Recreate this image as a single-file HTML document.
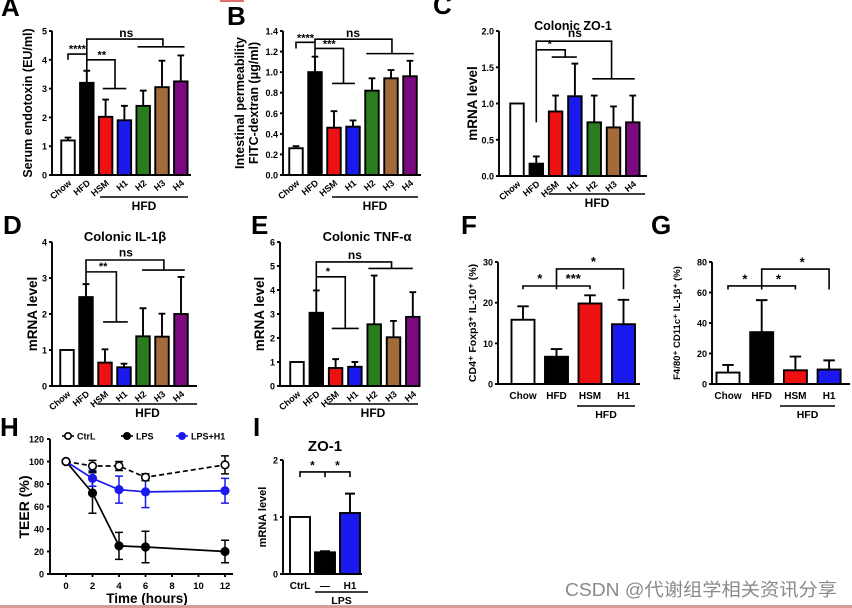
<!DOCTYPE html>
<html><head><meta charset="utf-8"><style>
html,body{margin:0;padding:0;background:#fff;}
svg{display:block;font-family:"Liberation Sans","Noto Sans CJK SC",sans-serif;}
text{font-weight:bold;fill:#000;}
</style></head><body>
<svg id="fig" width="852" height="608" viewBox="0 0 852 608" xmlns="http://www.w3.org/2000/svg"></svg>
<script>
// ---- data ----
const cats7 = ["Chow","HFD","HSM","H1","H2","H3","H4"];
const cols7 = ["#ffffff","#000000","#ee1111","#1a1aee","#2a7d1e","#a36a3a","#7a0a7e"];
const aMeans = [1.2,3.2,2.02,1.9,2.4,3.05,3.25];
const aErrs  = [0.1,0.42,0.6,0.5,0.53,0.92,0.9];
const bMeans = [0.26,1.0,0.46,0.47,0.82,0.94,0.96];
const bErrs  = [0.02,0.15,0.16,0.06,0.12,0.08,0.15];
const cMeans = [1.0,0.17,0.89,1.1,0.74,0.67,0.74];
const cErrs  = [0,0.1,0.22,0.45,0.37,0.29,0.37];
const dMeans = [1.0,2.47,0.65,0.52,1.38,1.37,2.0];
const dErrs  = [0,0.36,0.37,0.1,0.78,0.64,1.03];
const eMeans = [1.0,3.05,0.75,0.8,2.57,2.03,2.88];
const eErrs  = [0,0.93,0.37,0.2,2.03,0.68,1.03];
const cats4 = ["Chow","HFD","HSM","H1"];
const cols4 = ["#ffffff","#000000","#ee1111","#1a1aee"];
const fMeans = [15.8,6.7,19.8,14.7];
const fErrs  = [3.3,1.9,2.0,6.0];
const gMeans = [7.5,34,9,9.5];
const gErrs  = [5,21,9,6];
const iCats = ["CtrL","—","H1"];
const iCols = ["#ffffff","#000000","#1a1aee"];
const iMeans = [1.0,0.38,1.07];
const iErrs  = [0,0.02,0.34];
const hTimes = [0,2,4,6,12];
const hCtrl = [100,96,96,86,97];
const hCtrlErr = [0,5,4,3,8];
const hLps = [100,72,25,24,20];
const hLpsErr = [0,18,12,14,10];
const hH1 = [100,85,75,73,74];
const hH1Err = [0,7,12,14,11];
const hXTicks = [0,2,4,6,8,10,12];
const hYTicks = [0,20,40,60,80,100,120];

const NS="http://www.w3.org/2000/svg";
const svg=document.getElementById('fig');
const SW=1.9;
function el(tag,attrs,parent,txt){const e=document.createElementNS(NS,tag);for(const k in attrs)e.setAttribute(k,attrs[k]);if(txt!==undefined)e.textContent=txt;(parent||svg).appendChild(e);return e;}

function panel(c){
  const g=el('g',{});
  
  
  const sy=v=>c.y0-(v/c.ymax)*(c.y0-c.ytop);
  const sx=i=>c.x1+c.sp*i;
  c.means.forEach((m,i)=>{
    const r=el('rect',{x:sx(i)-c.bw/2,y:sy(m),width:c.bw,height:c.y0-sy(m),fill:c.cols[i],stroke:'#000','stroke-width':SW},g);
    
    
    if(c.errs[i]>0){
      const t=sy(m+c.errs[i]);
      el('path',{d:`M${sx(i)},${sy(m)}V${t}M${sx(i)-c.bw/4},${t}H${sx(i)+c.bw/4}`,stroke:'#000','stroke-width':SW,fill:'none'},g);
    }
  });
  const ax=el('path',{d:`M${c.ax},${c.ytop}V${c.y0}H${c.axEnd}`,stroke:'#000','stroke-width':SW,fill:'none'},g);
  
  
  c.ticks.forEach((t,k)=>{
    el('path',{d:`M${c.ax-3},${sy(t)}H${c.ax}`,stroke:'#000','stroke-width':SW},g);
    const tl=el('text',{x:c.ax-5,y:sy(t)+3.5,'text-anchor':'end','font-size':9},g,c.tickLabels[k]);
    
    
  });
  c.cats.forEach((n,i)=>{
    let t;
    if(c.rot){t=el('text',{x:sx(i)+4,y:c.y0+9,'text-anchor':'end','font-size':9,transform:`rotate(-40 ${sx(i)+4} ${c.y0+9})`},g,n);}
    else{t=el('text',{x:sx(i),y:c.y0+15,'text-anchor':'middle','font-size':c.catFs||10},g,n);}
    
    
  });
  c.ylab.forEach((l,k)=>{
    const t=el('text',{x:l[1],y:(c.y0+c.ytop)/2,'text-anchor':'middle','font-size':c.ylfs,transform:`rotate(-90 ${l[1]} ${(c.y0+c.ytop)/2})`},g,l[0]);
    
    
  });
  if(c.title){const t=el('text',{x:c.title[1],y:c.title[2],'text-anchor':'middle','font-size':c.title[3]||12},g,c.title[0]);
    }
  if(c.grp){
    el('path',{d:`M${c.grp[0]},${c.grp[2]}H${c.grp[1]}`,stroke:'#000','stroke-width':1.5},g);
    const t=el('text',{x:(c.grp[0]+c.grp[1])/2,y:c.grp[2]+c.grp[4],'text-anchor':'middle','font-size':c.grp[5]||10},g,c.grp[3]);
    
  }
  (c.br||[]).forEach(p=>{
    el('path',{d:p.map((q,k)=>(k?'L':'M')+sx(q[0])+','+sy(q[1])).join(''),stroke:'#000','stroke-width':1.6,fill:'none'},g);
  });
  (c.st||[]).forEach(s=>{
    const t=el('text',{x:sx(s[0]),y:sy(s[1]),'text-anchor':'middle','font-size':s[3]||11},g,s[2]);
    
  });
  const L=el('text',{x:c.letter[1],y:c.letter[2],'font-size':26},g,c.letter[0]);
  
}

panel({name:'panel-a',ax:52,axEnd:191,y0:175,ytop:31,ymax:5,ticks:[0,1,2,3,4,5],tickLabels:['0','1','2','3','4','5'],
 x1:68,sp:18.8,bw:13.5,cats:cats7,cols:cols7,means:aMeans,errs:aErrs,rot:true,ylab:[['Serum endotoxin (EU/ml)',32]],ylfs:12.5,
 grp:[100,188,197,'HFD',13,12],letter:['A',1,16],
 br:[[[1,3.65],[1,4.72],[5.05,4.72],[5.05,4.45]],[[3.7,4.45],[6.2,4.45]],[[0,4.0],[0,4.2],[1,4.2]],[[1,4.0],[2.5,4.0],[2.5,3.0]],[[1.85,3.0],[3.1,3.0]]],
 st:[[0.5,4.25,'****'],[1.8,4.05,'**'],[3.1,4.8,'ns',12]]});
panel({name:'panel-b',ax:283,axEnd:421,y0:175,ytop:31,ymax:1.4,ticks:[0,0.2,0.4,0.6,0.8,1.0,1.2,1.4],tickLabels:['0.0','0.2','0.4','0.6','0.8','1.0','1.2','1.4'],
 x1:296,sp:19,bw:13.5,cats:cats7,cols:cols7,means:bMeans,errs:bErrs,rot:true,ylab:[['Intestinal permeability',244],['FITC-dextran (μg/ml)',258]],ylfs:12.5,
 grp:[332,418,197,'HFD',13,12],letter:['B',227,25],
 br:[[[1,1.15],[1,1.32],[5.05,1.32],[5.05,1.18]],[[3.7,1.18],[6.2,1.18]],[[0,1.23],[0,1.29],[1,1.29]],[[1,1.23],[2.5,1.23],[2.5,0.89]],[[1.9,0.89],[3.1,0.89]]],
 st:[[0.5,1.3,'****'],[1.75,1.24,'***'],[3.0,1.34,'ns',12]]});
panel({name:'panel-c',ax:499,axEnd:647,y0:176,ytop:31,ymax:2,ticks:[0,0.5,1,1.5,2],tickLabels:['0.0','0.5','1.0','1.5','2.0'],
 x1:517,sp:19.3,bw:13.5,cats:cats7,cols:cols7,means:cMeans,errs:cErrs,rot:true,ylab:[['mRNA level',477]],ylfs:13.5,
 title:['Colonic ZO-1',573,30,12.5],grp:[549,645,194,'HFD',13,12],letter:['C',433,14],
 br:[[[1,0.74],[1,1.86],[4.9,1.86],[4.9,1.34]],[[3.9,1.34],[6.1,1.34]],[[1,1.74],[2.5,1.74],[2.5,1.64]],[[1.8,1.64],[3.1,1.64]]],
 st:[[1.7,1.77,'*'],[3.0,1.92,'ns',12]]});
panel({name:'panel-d',ax:52,axEnd:197,y0:386,ytop:242,ymax:4,ticks:[0,1,2,3,4],tickLabels:['0','1','2','3','4'],
 x1:67,sp:19,bw:13.5,cats:cats7,cols:cols7,means:dMeans,errs:dErrs,rot:true,ylab:[['mRNA level',37]],ylfs:13.5,
 title:['Colonic IL-1β',125,241,13],grp:[98,197,404,'HFD',13,12],letter:['D',3,234],
 br:[[[1,2.85],[1,3.5],[5.1,3.5],[5.1,3.22]],[[3.95,3.22],[6.2,3.22]],[[1,3.17],[2.6,3.17],[2.6,1.78]],[[1.9,1.78],[3.2,1.78]]],
 st:[[1.9,3.22,'**'],[3.1,3.6,'ns',12]]});
panel({name:'panel-e',ax:280,axEnd:420,y0:386,ytop:242,ymax:6,ticks:[0,1,2,3,4,5,6],tickLabels:['0','1','2','3','4','5','6'],
 x1:297,sp:19.3,bw:13.5,cats:cats7,cols:cols7,means:eMeans,errs:eErrs,rot:true,ylab:[['mRNA level',264]],ylfs:13.5,
 title:['Colonic TNF-α',367,241,13],grp:[328,418,404,'HFD',13,12],letter:['E',251,234],
 br:[[[1,4.0],[1,5.17],[4.9,5.17],[4.9,4.9]],[[3.7,4.9],[6.0,4.9]],[[1,4.55],[2.5,4.55],[2.5,2.4]],[[1.8,2.4],[3.2,2.4]]],
 st:[[1.6,4.62,'*'],[3.0,5.3,'ns',12]]});
panel({name:'panel-f',ax:498,axEnd:640,y0:384,ytop:262,ymax:30,ticks:[0,10,20,30],tickLabels:['0','10','20','30'],
 x1:523,sp:33.5,bw:23,cats:cats4,cols:cols4,means:fMeans,errs:fErrs,rot:false,catFs:10,ylab:[['CD4⁺ Foxp3⁺ IL-10⁺ (%)',476]],ylfs:10.5,
 grp:[577,635,406,'HFD',12,10.5],letter:['F',461,234],
 br:[[[0,23.3],[0,24.1],[1,24.1],[1,23.3]],[[1,24.1],[2,24.1],[2,23.3]],[[1,24.1],[1,28.3],[3,28.3],[3,23.3]]],
 st:[[0.5,24.8,'*',13],[1.5,24.8,'***',13],[2.1,29.0,'*',13]]});
panel({name:'panel-g',ax:712,axEnd:850,y0:384,ytop:262,ymax:80,ticks:[0,20,40,60,80],tickLabels:['0','20','40','60','80'],
 x1:728,sp:33.7,bw:23,cats:cats4,cols:cols4,means:gMeans,errs:gErrs,rot:false,catFs:10,ylab:[['F4/80⁺ CD11c⁺ IL-1β⁺ (%)',680]],ylfs:9.5,
 grp:[780,835,406,'HFD',12,10.5],letter:['G',651,234],
 br:[[[0,62],[0,64.3],[1,64.3],[1,62]],[[1,64.3],[2,64.3],[2,62]],[[1,64.3],[1,75.4],[3,75.4],[3,62]]],
 st:[[0.5,66,'*',13],[1.5,66,'*',13],[2.2,77,'*',13]]});
panel({name:'panel-i',ax:283,axEnd:362,y0:574,ytop:460,ymax:2,ticks:[0,1,2],tickLabels:['0','1','2'],
 x1:300,sp:25,bw:20,cats:iCats,cols:iCols,means:iMeans,errs:iErrs,rot:false,catFs:10,ylab:[['mRNA level',266]],ylfs:11,
 title:['ZO-1',325,451,15],grp:[315,368,592,'LPS',12,10.5],letter:['I',253,436],
 br:[[[0,1.7],[0,1.79],[1,1.79],[1,1.7]],[[1,1.79],[2,1.79],[2,1.7]]],
 st:[[0.5,1.83,'*',12],[1.5,1.83,'*',12]]});

// ---- panel H line chart ----
(function(){
  const g=el('g',{});
  
  
  const x0=66,x12=225,y0=574,y120=439;
  const sx=t=>x0+(t/12)*(x12-x0);
  const sy=v=>y0-(v/120)*(y0-y120);
  const ax=el('path',{d:`M50,${y120}V${y0}H233`,stroke:'#000','stroke-width':SW,fill:'none'},g);
  
  
  hYTicks.forEach(t=>{el('path',{d:`M47,${sy(t)}H50`,stroke:'#000','stroke-width':SW},g);
    const tl=el('text',{x:44,y:sy(t)+3.5,'text-anchor':'end','font-size':9},g,String(t));
    });
  hXTicks.forEach(t=>{el('path',{d:`M${sx(t)},${y0}V${y0+3}`,stroke:'#000','stroke-width':SW},g);
    const tl=el('text',{x:sx(t),y:y0+15,'text-anchor':'middle','font-size':9.5},g,String(t));
    });
  const xt=el('text',{x:147,y:603,'text-anchor':'middle','font-size':13.5},g,'Time (hours)');
  
  const yt=el('text',{x:29,y:507,'text-anchor':'middle','font-size':14,transform:'rotate(-90 29 507)'},g,'TEER (%)');
  
  const series=[[hLps,hLpsErr,'#000',false,'#000','series-lps'],[hH1,hH1Err,'#1a1aee',false,'#1a1aee','series-lps-h1'],[hCtrl,hCtrlErr,'#000',true,'#fff','series-ctrl']];
  series.forEach(s=>{
    const [vals,errs,col,dash,fill,nm]=s;
    errs.forEach((e,i)=>{if(e>0){const x=sx(hTimes[i]);
      el('path',{d:`M${x},${sy(vals[i]-e)}V${sy(vals[i]+e)}M${x-4},${sy(vals[i]-e)}H${x+4}M${x-4},${sy(vals[i]+e)}H${x+4}`,stroke:col,'stroke-width':1.5,fill:'none'},g);}});
    const ln=el('path',{d:vals.map((v,i)=>(i?'L':'M')+sx(hTimes[i])+','+sy(v)).join(''),stroke:col,'stroke-width':1.7,fill:'none','stroke-dasharray':dash?'5,3':'none'},g);
    
    
    vals.forEach((v,i)=>{const p=el('circle',{cx:sx(hTimes[i]),cy:sy(v),r:3.8,fill:fill,stroke:col,'stroke-width':1.6},g);
      });
  });
  const leg=[[68,'CtrL','#000','#fff'],[127,'LPS','#000','#000'],[182,'LPS+H1','#1a1aee','#1a1aee']];
  leg.forEach(l=>{
    const lg=el('g',{},g);
    
    
    el('path',{d:`M${l[0]-6},436H${l[0]+6}`,stroke:l[2],'stroke-width':1.6},lg);
    el('circle',{cx:l[0],cy:436,r:3.2,fill:l[3],stroke:l[2],'stroke-width':1.6},lg);
    el('text',{x:l[0]+9,y:439.5,'font-size':9},lg,l[1]);
  });
  const L=el('text',{x:0,y:436,'font-size':26},g,'H');
  
})();

el('rect',{x:220,y:0,width:24,height:2,fill:'#e07070'});
const bl=el('rect',{x:0,y:605,width:852,height:3,fill:'#d89a9a'});


const wm=el('text',{x:565,y:596,'font-size':18,textLength:272,lengthAdjust:'spacingAndGlyphs',style:'font-weight:normal;fill:#8a8a8a'},svg,'CSDN @代谢组学相关资讯分享');


</script>
</body></html>
